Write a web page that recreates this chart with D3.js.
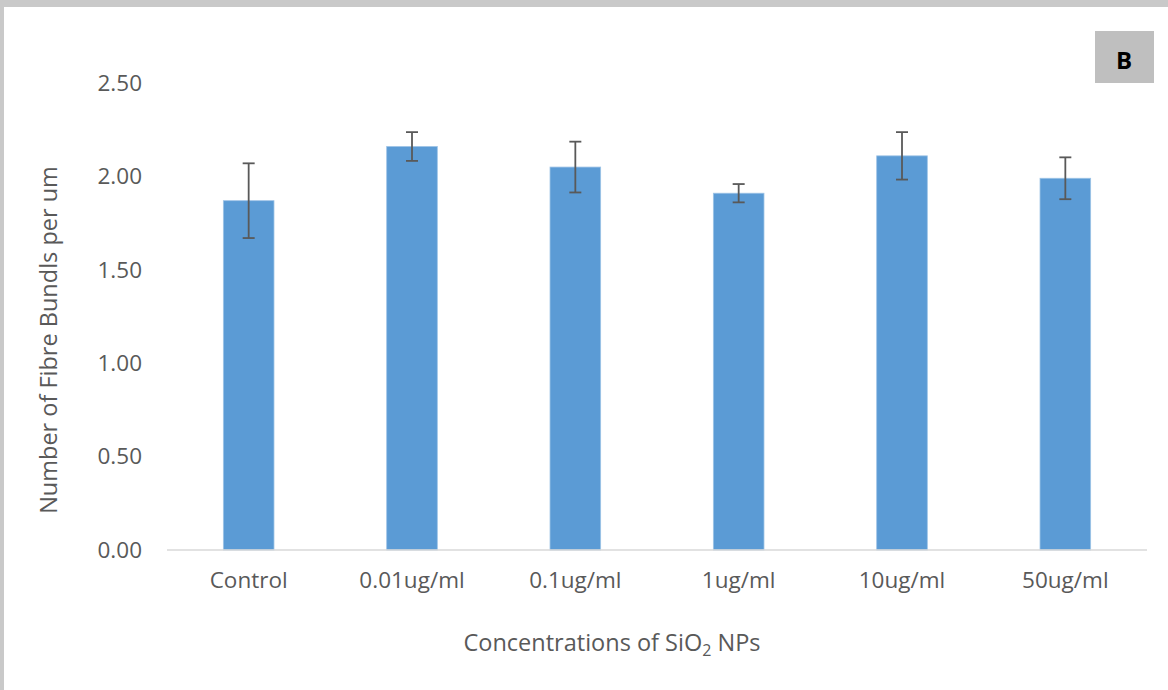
<!DOCTYPE html>
<html>
<head>
<meta charset="utf-8">
<script src="https://cdn.jsdelivr.net/npm/d3@7"></script>
<style>
  html, body { margin: 0; padding: 0; background: #ffffff; }
  svg { display: block; }
</style>
</head>
<body>
<script>
// Fibre bundle density by SiO2 nanoparticle concentration
const categories = ["Control", "0.01ug/ml", "0.1ug/ml", "1ug/ml", "10ug/ml", "50ug/ml"];
const means = [1.87, 2.16, 2.05, 1.91, 2.11, 1.99];
const errors = [0.20, 0.077, 0.136, 0.049, 0.127, 0.112];
const yTicks = [0, 0.5, 1.0, 1.5, 2.0, 2.5];

const W = 1168, H = 690;
const margin = { left: 167, right: 21, top: 83, bottom: 140 };

const svg = d3.select("body").append("svg")
  .attr("width", W).attr("height", H);

// frame: grey strips along the top and left edges
svg.append("rect").attr("x", 0).attr("y", 0).attr("width", W).attr("height", H).attr("fill", "#c9c9c9");
svg.append("rect").attr("x", 4).attr("y", 7).attr("width", W - 4).attr("height", H - 7).attr("fill", "#ffffff");

const x = d3.scaleBand()
  .domain(categories)
  .range([margin.left, W - margin.right])
  .paddingInner(0.69)
  .paddingOuter(0.345);

const y = d3.scaleLinear()
  .domain([0, 2.5])
  .range([550, 83]);

const font = "'Open Sans', sans-serif";
const textColor = "#595959";

// y axis labels (no axis line)
const yAxis = d3.axisLeft(y).tickValues(yTicks).tickFormat(d3.format(".2f")).tickSize(0).tickPadding(0);
const gy = svg.append("g").attr("transform", "translate(142,0)").call(yAxis);
gy.select(".domain").remove();
gy.selectAll("text")
  .attr("fill", textColor)
  .style("font-family", font)
  .style("font-size", "22.5px");

// bars
svg.append("g").selectAll("rect")
  .data(categories)
  .join("rect")
  .attr("x", d => x(d))
  .attr("width", x.bandwidth())
  .attr("y", (d, i) => y(means[i]))
  .attr("height", (d, i) => y(0) - y(means[i]))
  .attr("fill", "#5b9bd5")
  .attr("stroke", "#9dc3e6")
  .attr("stroke-width", 0.8);

// x axis
const xAxis = d3.axisBottom(x).tickSize(0).tickPadding(22);
const gx = svg.append("g").attr("transform", `translate(0,${y(0)})`).call(xAxis);
gx.select(".domain")
  .attr("stroke", "#d9d9d9")
  .attr("stroke-width", 1.5)
  .attr("d", `M${margin.left},0H${W - margin.right}`);
gx.selectAll("text")
  .attr("fill", textColor)
  .style("font-family", font)
  .style("font-size", "22.5px");

// error bars
const capHalf = 6;
const eg = svg.append("g").attr("stroke", "#595959").attr("stroke-width", 1.8).attr("fill", "none");
categories.forEach((c, i) => {
  const cx = x(c) + x.bandwidth() / 2;
  const top = y(means[i] + errors[i]);
  const bot = y(means[i] - errors[i]);
  eg.append("line").attr("x1", cx).attr("x2", cx).attr("y1", top).attr("y2", bot);
  eg.append("line").attr("x1", cx - capHalf).attr("x2", cx + capHalf).attr("y1", top).attr("y2", top);
  eg.append("line").attr("x1", cx - capHalf).attr("x2", cx + capHalf).attr("y1", bot).attr("y2", bot);
});

// axis titles
svg.append("text")
  .attr("transform", "translate(57,340) rotate(-90)")
  .attr("text-anchor", "middle")
  .attr("fill", textColor)
  .style("font-family", font)
  .style("font-size", "23.5px")
  .text("Number of Fibre Bundls per um");

const xt = svg.append("text")
  .attr("x", 612).attr("y", 651)
  .attr("text-anchor", "middle")
  .attr("fill", textColor)
  .style("font-family", font)
  .style("font-size", "23.5px");
xt.append("tspan").text("Concentrations of SiO");
xt.append("tspan").attr("dy", 5).style("font-size", "16px").text("2");
xt.append("tspan").attr("dy", -5).text(" NPs");

// panel letter
svg.append("rect").attr("x", 1095).attr("y", 31).attr("width", 59).attr("height", 52).attr("fill", "#bfbfbf");
svg.append("text")
  .attr("x", 1124).attr("y", 68.5)
  .attr("text-anchor", "middle")
  .attr("fill", "#000000")
  .style("font-family", font)
  .style("font-weight", "bold")
  .style("font-size", "24px")
  .text("B");
</script>
</body>
</html>
